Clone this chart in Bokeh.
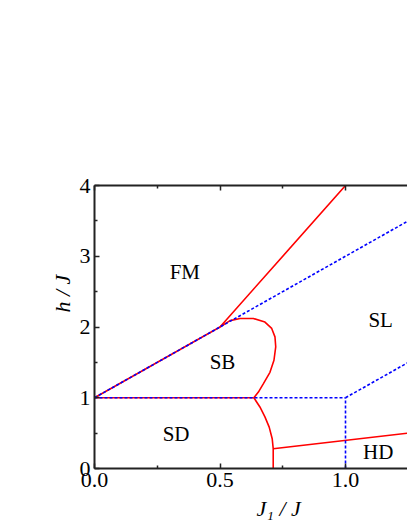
from bokeh.plotting import figure
from bokeh.models import LinearAxis, Title, Range1d, FixedTicker, ColumnDataSource
from bokeh.core.properties import value
from bokeh.embed import file_html
from bokeh.resources import INLINE

# ---- data ----
# red solid boundaries
fm_x = [0.0, 0.5, 1.0]
fm_y = [1.0, 2.0, 4.0]
sb_x = [0.5, 0.54, 0.58, 0.633, 0.679, 0.706, 0.719, 0.722, 0.715, 0.699, 0.673, 0.653, 0.635]
sb_y = [2.0, 2.09, 2.12, 2.12, 2.07, 1.98, 1.86, 1.72, 1.53, 1.36, 1.20, 1.08, 1.0]
h1_x = [0.0, 0.635]
h1_y = [1.0, 1.0]
sd_x = [0.635, 0.659, 0.679, 0.696, 0.708, 0.712, 0.712]
sd_y = [1.0, 0.87, 0.73, 0.585, 0.42, 0.28, 0.0]
hd_x = [0.712, 1.25]
hd_y = [0.28, 0.50]
# blue dotted boundaries
bu_x = [0.0, 1.25]
bu_y = [1.0, 3.5]
bh_x = [0.0, 1.0]
bh_y = [1.0, 1.0]
bv_x = [1.0, 1.0]
bv_y = [0.0, 1.0]
bs_x = [1.0, 1.25]
bs_y = [1.0, 1.5]
# phase labels
phase_names = ["FM", "SB", "SD", "SL", "HD"]
phase_x = [0.36, 0.51, 0.325, 1.14, 1.13]
phase_y = [2.78, 1.51, 0.49, 2.10, 0.23]
# ticks
x_ticks = [0.0, 0.5, 1.0]
x_tick_labels = ["0.0", "0.5", "1.0"]
x_minor = [0.25, 0.75, 1.25]
y_ticks = [0, 1, 2, 3, 4]
y_tick_labels = ["0", "1", "2", "3", "4"]
y_minor = [0.5, 1.5, 2.5, 3.5]

FONT = "Liberation Serif"
AX = "#222222"

p = figure(width=407, height=527, x_range=Range1d(0, 1.247), y_range=Range1d(0, 4),
           output_backend="svg", toolbar_location=None,
           min_border_left=94, min_border_right=0, min_border_top=185, min_border_bottom=59)
p.outline_line_color = None
p.grid.visible = False
p.background_fill_color = "white"
p.border_fill_color = "white"

bottom = p.below[0]
left = p.left[0]
top = LinearAxis()
p.add_layout(top, "above")

for ax in [bottom, top]:
    ax.ticker = FixedTicker(ticks=x_ticks, minor_ticks=x_minor)
bottom.major_label_overrides = dict(zip(x_ticks, x_tick_labels))
top.major_label_overrides = {t: "" for t in x_ticks}
left.ticker = FixedTicker(ticks=y_ticks, minor_ticks=y_minor)
left.major_label_overrides = dict(zip(y_ticks, y_tick_labels))

for ax in [bottom, left, top]:
    ax.axis_line_color = AX
    ax.axis_line_width = 2
    ax.major_tick_line_color = AX
    ax.minor_tick_line_color = AX
    ax.major_tick_line_width = 1.5
    ax.minor_tick_line_width = 1.5
    ax.major_tick_in = 5
    ax.major_tick_out = 0
    ax.minor_tick_in = 3
    ax.minor_tick_out = 0
    ax.major_label_text_font = FONT
    ax.major_label_text_font_size = "22px"
    ax.major_label_text_color = "black"
    ax.major_label_standoff = 4
top.major_label_standoff = 0

# red boundaries
for xs, ys in [(fm_x, fm_y), (sb_x, sb_y), (h1_x, h1_y), (sd_x, sd_y), (hd_x, hd_y)]:
    p.line(xs, ys, line_color="#ff0000", line_width=1.6)
# blue dotted boundaries
for xs, ys in [(bu_x, bu_y), (bh_x, bh_y), (bv_x, bv_y), (bs_x, bs_y)]:
    p.line(xs, ys, line_color="#0000ff", line_width=1.6, line_dash="3 2")

src = ColumnDataSource(dict(x=phase_x, y=phase_y, t=phase_names))
p.text(x="x", y="y", text="t", source=src, text_font=value(FONT), text_font_size="21px",
       text_align="center", text_baseline="middle", text_color="black")

# axis titles
p.add_layout(Title(text="h / J", align="left", offset=156, text_font=FONT,
                   text_font_style="italic", text_font_size="22px", text_color="black",
                   standoff=4), "left")
p.add_layout(Title(text="J\u2081 / J", align="left", offset=162, text_font=FONT,
                   text_font_style="italic", text_font_size="22px", text_color="black",
                   standoff=8), "below")

open("out.html", "w").write(file_html(p, INLINE))
